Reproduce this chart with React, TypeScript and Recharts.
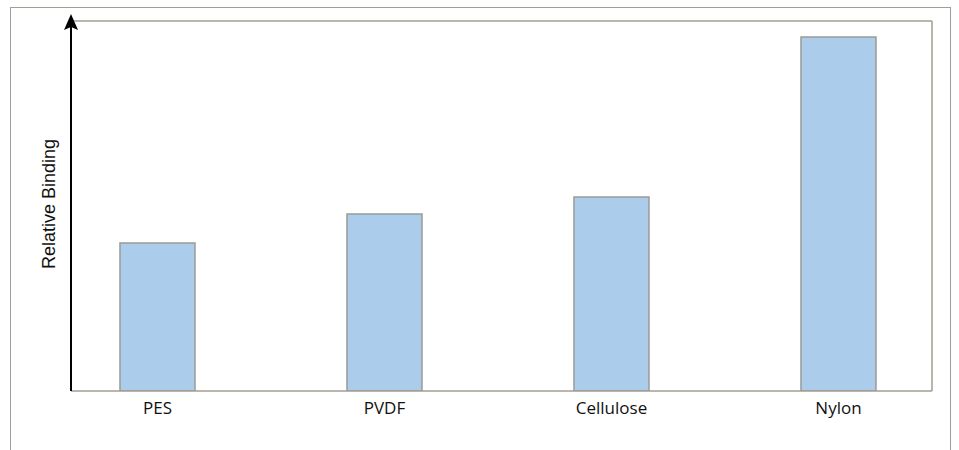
import React from 'react'
import { BarChart, Bar, XAxis, YAxis, ReferenceLine } from 'recharts'

// membrane types and their relative binding (Nylon = 100)
const categories = ['PES', 'PVDF', 'Cellulose', 'Nylon']
const binding = [41.8, 50.0, 54.8, 100]
const categoryTicks = [0, 1, 2, 3]

const xDomain: [number, number] = [-0.381, 3.412]
const yDomain: [number, number] = [0, 104.5]

const frameColor = '#a39d92'

const data = categories.map((name, i) => ({ idx: i, name, binding: binding[i] }))

const App: React.FC = () => {
  return (
    <div style={{ position: 'fixed', left: 0, top: 0, width: 959, height: 450, overflow: 'hidden', background: '#fff' }}>
      <div
        style={{
          position: 'absolute',
          left: 10,
          top: 7,
          width: 939,
          height: 470,
          border: `1.5px solid ${frameColor}`,
        }}
      />
      <div style={{ position: 'absolute', left: 0, top: 0 }}>
        <BarChart
          width={959}
          height={450}
          data={data}
          margin={{ top: 21, right: 27, bottom: 29, left: 11 }}
        >
          <defs>
            <marker
              id="arrowUp"
              markerUnits="userSpaceOnUse"
              markerWidth={16}
              markerHeight={14}
              refX={9}
              refY={7}
              orient="auto-start-reverse"
            >
              <path d="M0,0 L16,7 L0,14 L3,7 z" fill="#000" />
            </marker>
          </defs>
          <XAxis
            type="number"
            dataKey="idx"
            domain={xDomain}
            ticks={categoryTicks}
            allowDataOverflow
            height={30}
            tickLine={false}
            axisLine={{ stroke: frameColor, strokeWidth: 1.5 }}
            tickFormatter={(v: number) => categories[v] ?? ''}
            tick={{ fill: '#111', fontSize: 17, fontFamily: 'Open Sans', dy: 3 }}
          />
          <YAxis
            domain={yDomain}
            allowDataOverflow
            width={60}
            tick={false}
            tickLine={false}
            axisLine={{ stroke: '#000', strokeWidth: 2, markerStart: 'url(#arrowUp)' }}
            label={{
              value: 'Relative Binding',
              angle: -90,
              position: 'center',
              dx: 8,
              dy: -2,
              style: { fill: '#111', fontSize: 18, fontFamily: 'Liberation Sans' },
            }}
          />
          <ReferenceLine y={yDomain[1]} stroke={frameColor} strokeWidth={1.5} ifOverflow="extendDomain" />
          <ReferenceLine x={xDomain[1]} stroke={frameColor} strokeWidth={1.5} ifOverflow="extendDomain" />
          <Bar
            dataKey="binding"
            barSize={75}
            fill="#abcdeb"
            stroke="#9a9a96"
            strokeWidth={1.5}
            isAnimationActive={false}
          />
        </BarChart>
      </div>
    </div>
  )
}

export default App
